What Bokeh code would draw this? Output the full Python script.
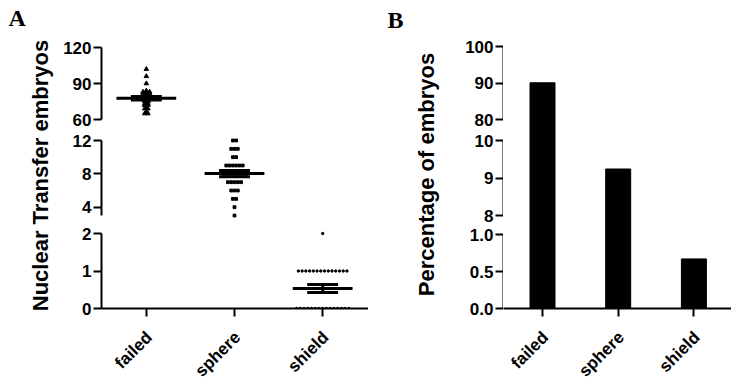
import math
import numpy as np
from bokeh.plotting import figure
from bokeh.models import Range1d, FixedTicker, PrintfTickFormatter
from bokeh.core.properties import value
from bokeh.layouts import row, column
from bokeh.embed import file_html
from bokeh.resources import INLINE

# ---------------- data ----------------
categories = ["failed", "sphere", "shield"]
failed_counts = [102, 96, 90, 84, 83, 83, 83, 82, 82, 82, 81,
                 80, 79, 79, 78, 78, 77, 77, 76, 76, 75, 75, 74,
                 73, 73, 72, 72, 70, 69, 69, 66, 65, 65]
sphere_counts = [12, 12, 11, 11, 11, 10, 10, 9, 9, 9, 9, 9, 9,
                 8, 8, 8, 8, 8, 8, 8, 8,
                 7, 7, 7, 7, 7, 6, 6, 6, 5, 5, 4, 3]
shield_counts = [2] + [1] * 14 + [0] * 15
percent_values = [90.1, 9.24, 0.67]

a_top_ticks = [60, 90, 120]
a_mid_ticks = [4, 8, 12]
a_bot_ticks = [0, 1, 2]
b_top_ticks = [80, 90, 100]
b_mid_ticks = [8, 9, 10]
b_bot_ticks = [0.0, 0.5, 1.0]

FONT = "Liberation Sans"
TICK_FS = "17px"
XLAB_FS = "17px"

# ---------------- layout (page pixels, origin top-left) ----------------
TOTAL_H = 385
X_AXIS_Y = 308
TICK_BORDER = 16
XLAB_TOP = X_AXIS_Y + TICK_BORDER
XLAB_H = TOTAL_H - XLAB_TOP
XLAB_Y = 334          # anchor of the rotated category labels
SEG_FRAMES = [(0, 130), (130, 224), (224, X_AXIS_Y)]
SEG_H = [130, 94, X_AXIS_Y - 224 + TICK_BORDER]


def seg_range(v_hi, y_hi, v_lo, y_lo, frame):
    ftop, fbot = frame
    per_px = (v_hi - v_lo) / (y_lo - y_hi)
    return Range1d(v_lo - (fbot - y_lo) * per_px, v_hi + (y_hi - ftop) * per_px)


def style_axis(ax, ticks, bounds, fmt=None):
    ax.ticker = FixedTicker(ticks=ticks)
    ax.bounds = bounds
    ax.axis_line_width = 2
    ax.axis_line_color = "black"
    ax.major_tick_line_width = 2
    ax.major_tick_line_color = "black"
    ax.major_tick_in = 0
    ax.major_tick_out = 8
    ax.minor_tick_line_color = None
    ax.major_label_standoff = 2
    ax.major_label_text_font = FONT
    ax.major_label_text_font_style = "bold"
    ax.major_label_text_font_size = TICK_FS
    ax.major_label_text_color = "black"
    if fmt is not None:
        ax.formatter = fmt


def style_xaxis(p):
    ax = p.xaxis[0]
    style_axis(ax, [1, 2, 3], "auto")
    # the category names are drawn in the label strip below
    ax.major_label_overrides = {i + 1: "" for i in range(len(categories))}
    ax.major_label_text_font_size = "1px"
    ax.major_label_standoff = 0


def clean(p):
    p.grid.visible = False
    p.outline_line_color = None
    p.background_fill_color = "white"
    p.border_fill_color = "white"


def make_seg(width, xr, yr, idx, ticks, bounds, fmt=None, has_x=False):
    p = figure(width=width, height=SEG_H[idx], x_range=xr, y_range=yr,
               output_backend="svg", toolbar_location=None,
               x_axis_type="linear" if has_x else None,
               min_border_left=40, min_border_right=0, min_border_top=0,
               min_border_bottom=TICK_BORDER if idx == 2 else 0)
    clean(p)
    style_axis(p.yaxis[0], ticks, bounds, fmt)
    if has_x:
        style_xaxis(p)
    return p


def xlabel_strip(width, left, xr, px_per_x):
    p = figure(width=width, height=XLAB_H, x_range=xr, y_range=Range1d(0, XLAB_H),
               output_backend="svg", toolbar_location=None,
               x_axis_type=None, y_axis_type=None,
               min_border_left=left, min_border_right=0, min_border_top=0,
               min_border_bottom=0)
    clean(p)
    p.text(x=[i + 1 + 3 / px_per_x for i in range(len(categories))],
           y=[TOTAL_H - XLAB_Y] * len(categories), text=categories,
           angle=math.pi / 4, text_font=value(FONT), text_font_style="bold",
           text_font_size=XLAB_FS, text_color="black",
           text_align="right", text_baseline="middle")
    return p


def spread(values, center, step):
    vals = np.asarray(values, dtype=float)
    xs, ys = [], []
    for v in sorted(set(vals.tolist()), reverse=True):
        k = int((vals == v).sum())
        for i in range(k):
            xs.append(center + (i - (k - 1) / 2) * step)
            ys.append(v)
    return xs, ys


def label_fig(width, letter, lx, ly, title, tx, t_mid, tfs):
    p = figure(width=width, height=TOTAL_H, x_range=Range1d(0, width),
               y_range=Range1d(0, TOTAL_H),
               output_backend="svg", toolbar_location=None,
               x_axis_type=None, y_axis_type=None,
               min_border_left=0, min_border_right=0, min_border_top=0, min_border_bottom=0)
    clean(p)
    p.text(x=[lx], y=[TOTAL_H - ly], text=[letter], text_font=value("Liberation Serif"),
           text_font_style="bold", text_font_size="24px", text_color="black",
           text_align="left", text_baseline="alphabetic")
    p.text(x=[tx], y=[TOTAL_H - t_mid], text=[title], angle=math.pi / 2,
           text_font=value(FONT), text_font_style="bold", text_font_size=tfs,
           text_color="black", text_align="center", text_baseline="alphabetic")
    return p


# ---------------- Panel A ----------------
A_W = 308
PXU_A = 88.5
xrA = Range1d(1 - 45 / PXU_A, 1 - 45 / PXU_A + 268 / PXU_A)
a_ranges = [seg_range(120, 47, 60, 119, SEG_FRAMES[0]),
            seg_range(12, 140, 4, 206.7, SEG_FRAMES[1]),
            seg_range(2, 233, 0, X_AXIS_Y, SEG_FRAMES[2])]
a_top = make_seg(A_W, xrA, a_ranges[0], 0, a_top_ticks, (60, 120))
a_mid = make_seg(A_W, xrA, a_ranges[1], 1, a_mid_ticks, (3, 12))
a_bot = make_seg(A_W, xrA, a_ranges[2], 2, a_bot_ticks, (0, 2), has_x=True)
a_xlab = xlabel_strip(A_W, 40, xrA, PXU_A)

series = [(a_top, failed_counts, "triangle", 4.5, 3.3 / PXU_A),
          (a_mid, sphere_counts, "square", 2.8, 3.3 / PXU_A),
          (a_bot, shield_counts, "circle", 2.4, 3.75 / PXU_A)]
for i, (p, vals, marker, size, step) in enumerate(series):
    cx = i + 1
    xs, ys = spread(vals, cx, step)
    p.scatter(xs, ys, marker=marker, size=size, color="black")
    arr = np.asarray(vals, dtype=float)
    m = arr.mean()
    sem = arr.std(ddof=1) / math.sqrt(len(arr))
    hw, sw = 30 / PXU_A, 15.5 / PXU_A
    p.segment(x0=[cx - hw, cx - sw, cx - sw, cx], y0=[m, m + sem, m - sem, m - sem],
              x1=[cx + hw, cx + sw, cx + sw, cx], y1=[m, m + sem, m - sem, m + sem],
              line_width=3, color="black")

labA = label_fig(60, "A", 8, 17, "Nuclear Transfer embryos", 40, 175, "22px")
panelA = row(labA, column(a_top, a_mid, a_bot, a_xlab, spacing=0), spacing=0)

# ---------------- Panel B ----------------
# y axes in a narrow column, bars in one figure spanning all segments
dummy_x = Range1d(0, 1)
b_axis_ranges = [seg_range(100, 46, 80, 119.3, SEG_FRAMES[0]),
                 seg_range(10, 140, 8, 215, SEG_FRAMES[1]),
                 seg_range(1, 234, 0, X_AXIS_Y, SEG_FRAMES[2])]
b_top = make_seg(41, dummy_x, b_axis_ranges[0], 0, b_top_ticks, (80, 100))
b_mid = make_seg(41, dummy_x, b_axis_ranges[1], 1, b_mid_ticks, (8, 10))
b_bot = make_seg(41, dummy_x, b_axis_ranges[2], 2, b_bot_ticks, (0, 1),
                 PrintfTickFormatter(format="%.1f"))

PXU_B = 75.7
BARS_W = 228
FULL = (0, X_AXIS_Y)
x0B = 1 - (542 - 503) / PXU_B
xrB = Range1d(x0B, x0B + BARS_W / PXU_B)
bars = figure(width=BARS_W, height=XLAB_TOP, x_range=xrB,
              y_range=seg_range(1, 234, 0, X_AXIS_Y, FULL),
              output_backend="svg", toolbar_location=None, y_axis_type=None,
              min_border_left=0, min_border_right=0, min_border_top=0,
              min_border_bottom=TICK_BORDER)
clean(bars)
bars.extra_y_ranges = {"mid": seg_range(10, 140, 8, 215, FULL),
                       "top": seg_range(100, 46, 80, 119.3, FULL)}
style_xaxis(bars)
seg_limits = [(1.0, "default"), (10.0, "mid"), (100.0, "top")]
for i, v in enumerate(percent_values):
    rng = next(name for lim, name in seg_limits if v <= lim)
    bars.vbar(x=[i + 1], top=[v], bottom=0, width=25 / PXU_B, color="black",
              y_range_name=rng)
b_xlab = xlabel_strip(41 + BARS_W, 41, xrB, PXU_B)

labB = label_fig(94, "B", 19, 19, "Percentage of embryos", 58, 174, "22px")
plotB = column(row(column(b_top, b_mid, b_bot, spacing=0), bars, spacing=0), b_xlab, spacing=0)
panelB = row(labB, plotB, spacing=0)

layout = row(panelA, panelB, spacing=0)
open("out.html", "w").write(file_html(layout, INLINE))
